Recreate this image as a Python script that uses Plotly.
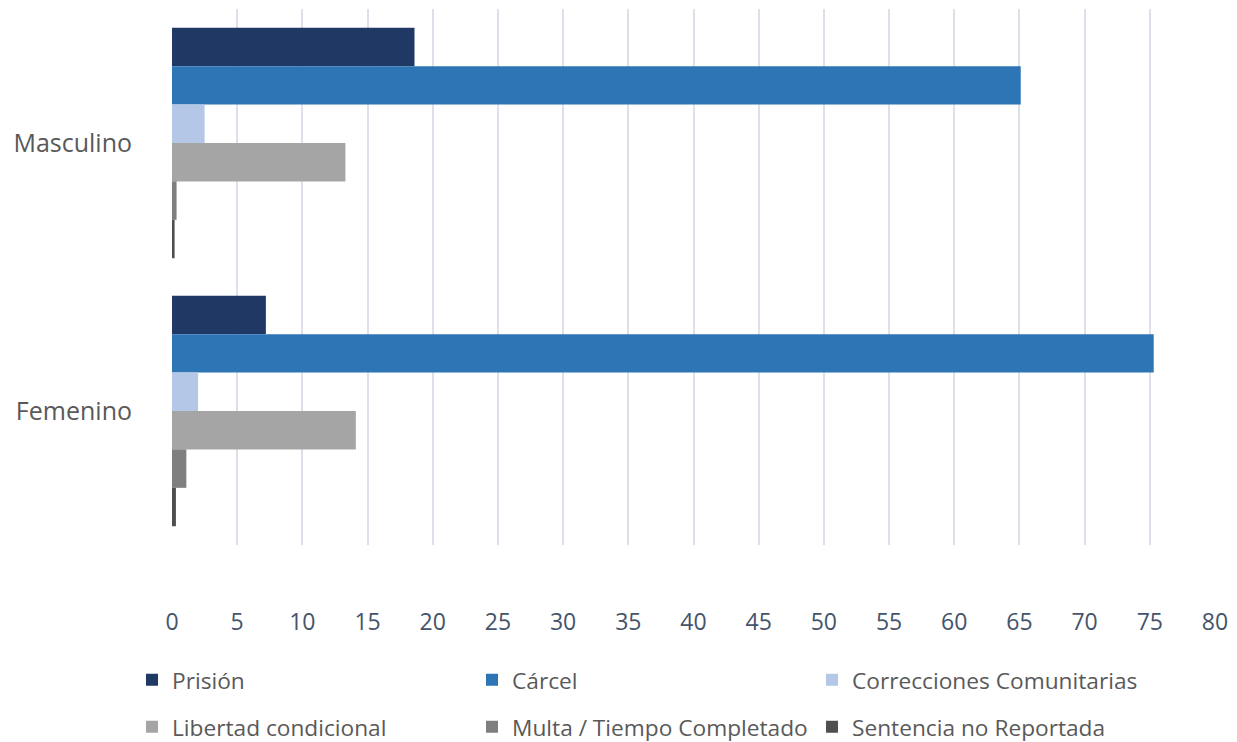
import plotly.graph_objects as go

categories = ["Masculino", "Femenino"]
series_names = ["Prisión", "Cárcel", "Correcciones Comunitarias",
                "Libertad condicional", "Multa / Tiempo Completado", "Sentencia no Reportada"]
prision = [18.6, 7.2]
carcel = [65.1, 75.3]
correcciones = [2.5, 2.0]
libertad = [13.3, 14.1]
multa = [0.35, 1.1]
sentencia = [0.2, 0.3]
colors = ["#203864", "#2E75B6", "#B4C7E7", "#A5A5A5", "#7F7F7F", "#4F4F4F"]
x_ticks = list(range(0, 85, 5))

values = [prision, carcel, correcciones, libertad, multa, sentencia]

fig = go.Figure()
for i, (name, vals, col) in enumerate(zip(series_names, values, colors)):
    fig.add_trace(go.Bar(
        y=categories, x=vals, name=name, orientation="h",
        marker=dict(color=col, line=dict(width=0)),
        legend="legend" if i < 3 else "legend2",
    ))

# page body has an 8px offset; figure sized to fit the window
OFF = 8
W, H = 1237 - OFF, 742 - OFF
ml, mr, mt, mb = 172 - OFF, 22, 9 - OFF, 197
ph = H - mt - mb
pw = W - ml - mr

def py(pix):  # pix in page coordinates
    return (H - mb - (pix - OFF)) / ph

def px(pix):
    return ((pix - OFF) - ml) / pw

legend_common = dict(
    orientation="h", entrywidth=295, entrywidthmode="pixels",
    font=dict(family="Open Sans", size=22.7, color="#595959"),
    bgcolor="rgba(0,0,0,0)", yanchor="middle", xanchor="left",
    itemclick=False,
)

fig.update_layout(
    width=W, height=H,
    margin=dict(l=ml, r=mr, t=mt, b=mb, autoexpand=False),
    paper_bgcolor="white", plot_bgcolor="white",
    barmode="group", bargap=0.14, bargroupgap=0,
    font=dict(family="Open Sans", color="#595959"),
    xaxis=dict(
        range=[0, 80], tickvals=x_ticks, ticktext=[str(v) for v in x_ticks],
        showgrid=True, gridcolor="#DCE0E8", gridwidth=2,
        zeroline=False, showline=False,
        tickfont=dict(family="Open Sans", size=23, color="#44546A"),
        ticklabelstandoff=61,
    ),
    yaxis=dict(
        categoryorder="array", categoryarray=categories,
        autorange="reversed",
        showgrid=False, zeroline=False, showline=False,
        tickfont=dict(family="Open Sans", size=25, color="#595959"),
        ticklabelstandoff=39,
    ),
    legend=dict(**legend_common, x=px(132), y=py(680)),
    legend2=dict(**legend_common, x=px(132), y=py(727)),
)

fig.write_html("out.html")
